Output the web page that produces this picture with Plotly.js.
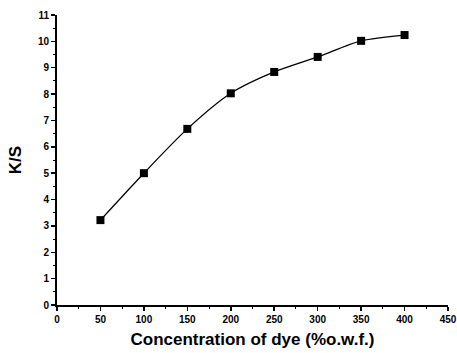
<!DOCTYPE html>
<html><head><meta charset="utf-8">
<script src="https://cdn.plot.ly/plotly-3.0.1.min.js"></script>
<style>html,body{margin:0;padding:0;background:#fff}</style>
</head><body>
<div id="chart" style="width:457px;height:353px"></div>
<script>
const concentration = [50, 100, 150, 200, 250, 300, 350, 400];
const ks = [3.22, 5.0, 6.68, 8.03, 8.84, 9.41, 10.02, 10.24];
const xTicks = [0, 50, 100, 150, 200, 250, 300, 350, 400, 450];
const yTicks = [0,1,2,3,4,5,6,7,8,9,10,11];

const tickFont = {family: 'Liberation Sans, Arial, sans-serif', size: 10, color: '#000', weight: 700};
const titleFont = {family: 'Liberation Sans, Arial, sans-serif', size: 17, color: '#000', weight: 700};

Plotly.newPlot('chart', [{
  x: concentration, y: ks, type: 'scatter', mode: 'lines+markers',
  line: {shape: 'spline', color: '#000', width: 1.3, smoothing: 0.8},
  marker: {symbol: 'square', size: 8, color: '#000'}
}], {
  width: 457, height: 353,
  margin: {l: 57, r: 9, t: 15, b: 48},
  paper_bgcolor: '#fff', plot_bgcolor: '#fff',
  showlegend: false,
  xaxis: {
    range: [0, 450], tickvals: xTicks, ticktext: xTicks.map(String),
    showgrid: false, zeroline: false, showline: true, linecolor: '#000', linewidth: 2,
    ticks: 'outside', ticklen: 4, tickwidth: 1.5, tickcolor: '#000',
    minor: {dtick: 25, tick0: 0, ticks: 'outside', ticklen: 2, tickcolor: '#000', tickwidth: 1},
    tickfont: tickFont,
    title: {text: 'Concentration of dye (%o.w.f.)', font: titleFont, standoff: 9}
  },
  yaxis: {
    range: [0, 11], tickvals: yTicks, ticktext: yTicks.map(String),
    showgrid: false, zeroline: false, showline: true, linecolor: '#000', linewidth: 2,
    ticks: 'outside', ticklen: 4, tickwidth: 1.5, tickcolor: '#000',
    minor: {dtick: 0.5, tick0: 0, ticks: 'outside', ticklen: 2, tickcolor: '#000', tickwidth: 1},
    tickfont: tickFont,
    title: {text: 'K/S', font: titleFont, standoff: 12}
  }
}, {staticPlot: true, displayModeBar: false});
</script>
</body></html>
